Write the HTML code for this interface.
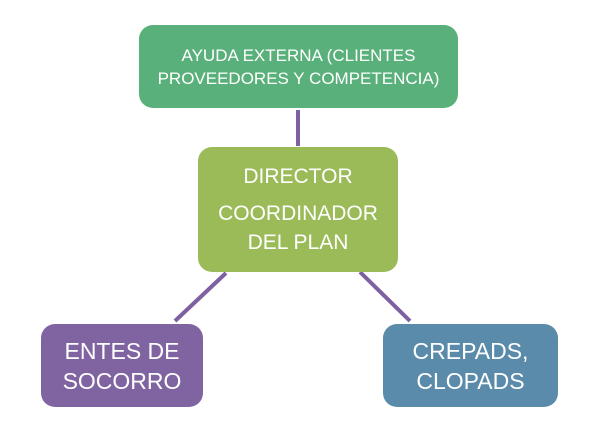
<!DOCTYPE html>
<html><head><style>
body{margin:0;width:600px;height:433px;background:#fff;position:relative;overflow:hidden;font-family:"Liberation Sans",sans-serif;}
.b{position:absolute;border-radius:14px;color:#fff;display:flex;flex-direction:column;align-items:center;justify-content:center;text-align:center;}
</style></head><body>
<svg width="600" height="433" style="position:absolute;left:0;top:0">
<g stroke="#7f60a0" stroke-width="4">
<line x1="298" y1="110" x2="298" y2="146"/>
<line x1="226" y1="273" x2="175" y2="321"/>
<line x1="360" y1="272" x2="410" y2="321"/>
</g></svg>
<div class="b" style="left:139px;top:25px;width:319px;height:83px;background:#59b07a;font-size:17px;line-height:23px;">AYUDA EXTERNA (CLIENTES<br>PROVEEDORES Y COMPETENCIA)</div>
<div class="b" style="left:198px;top:147px;width:200px;height:125px;background:#9bbb59;font-size:21px;line-height:29px;"><div>DIRECTOR</div><div style="margin-top:8px">COORDINADOR<br>DEL PLAN</div></div>
<div class="b" style="left:41px;top:324px;width:162px;height:83px;background:#8064a2;font-size:23px;line-height:30px;">ENTES DE<br>SOCORRO</div>
<div class="b" style="left:383px;top:324px;width:175px;height:83px;background:#5b8bab;font-size:23px;line-height:30px;">CREPADS,<br>CLOPADS</div>
</body></html>
